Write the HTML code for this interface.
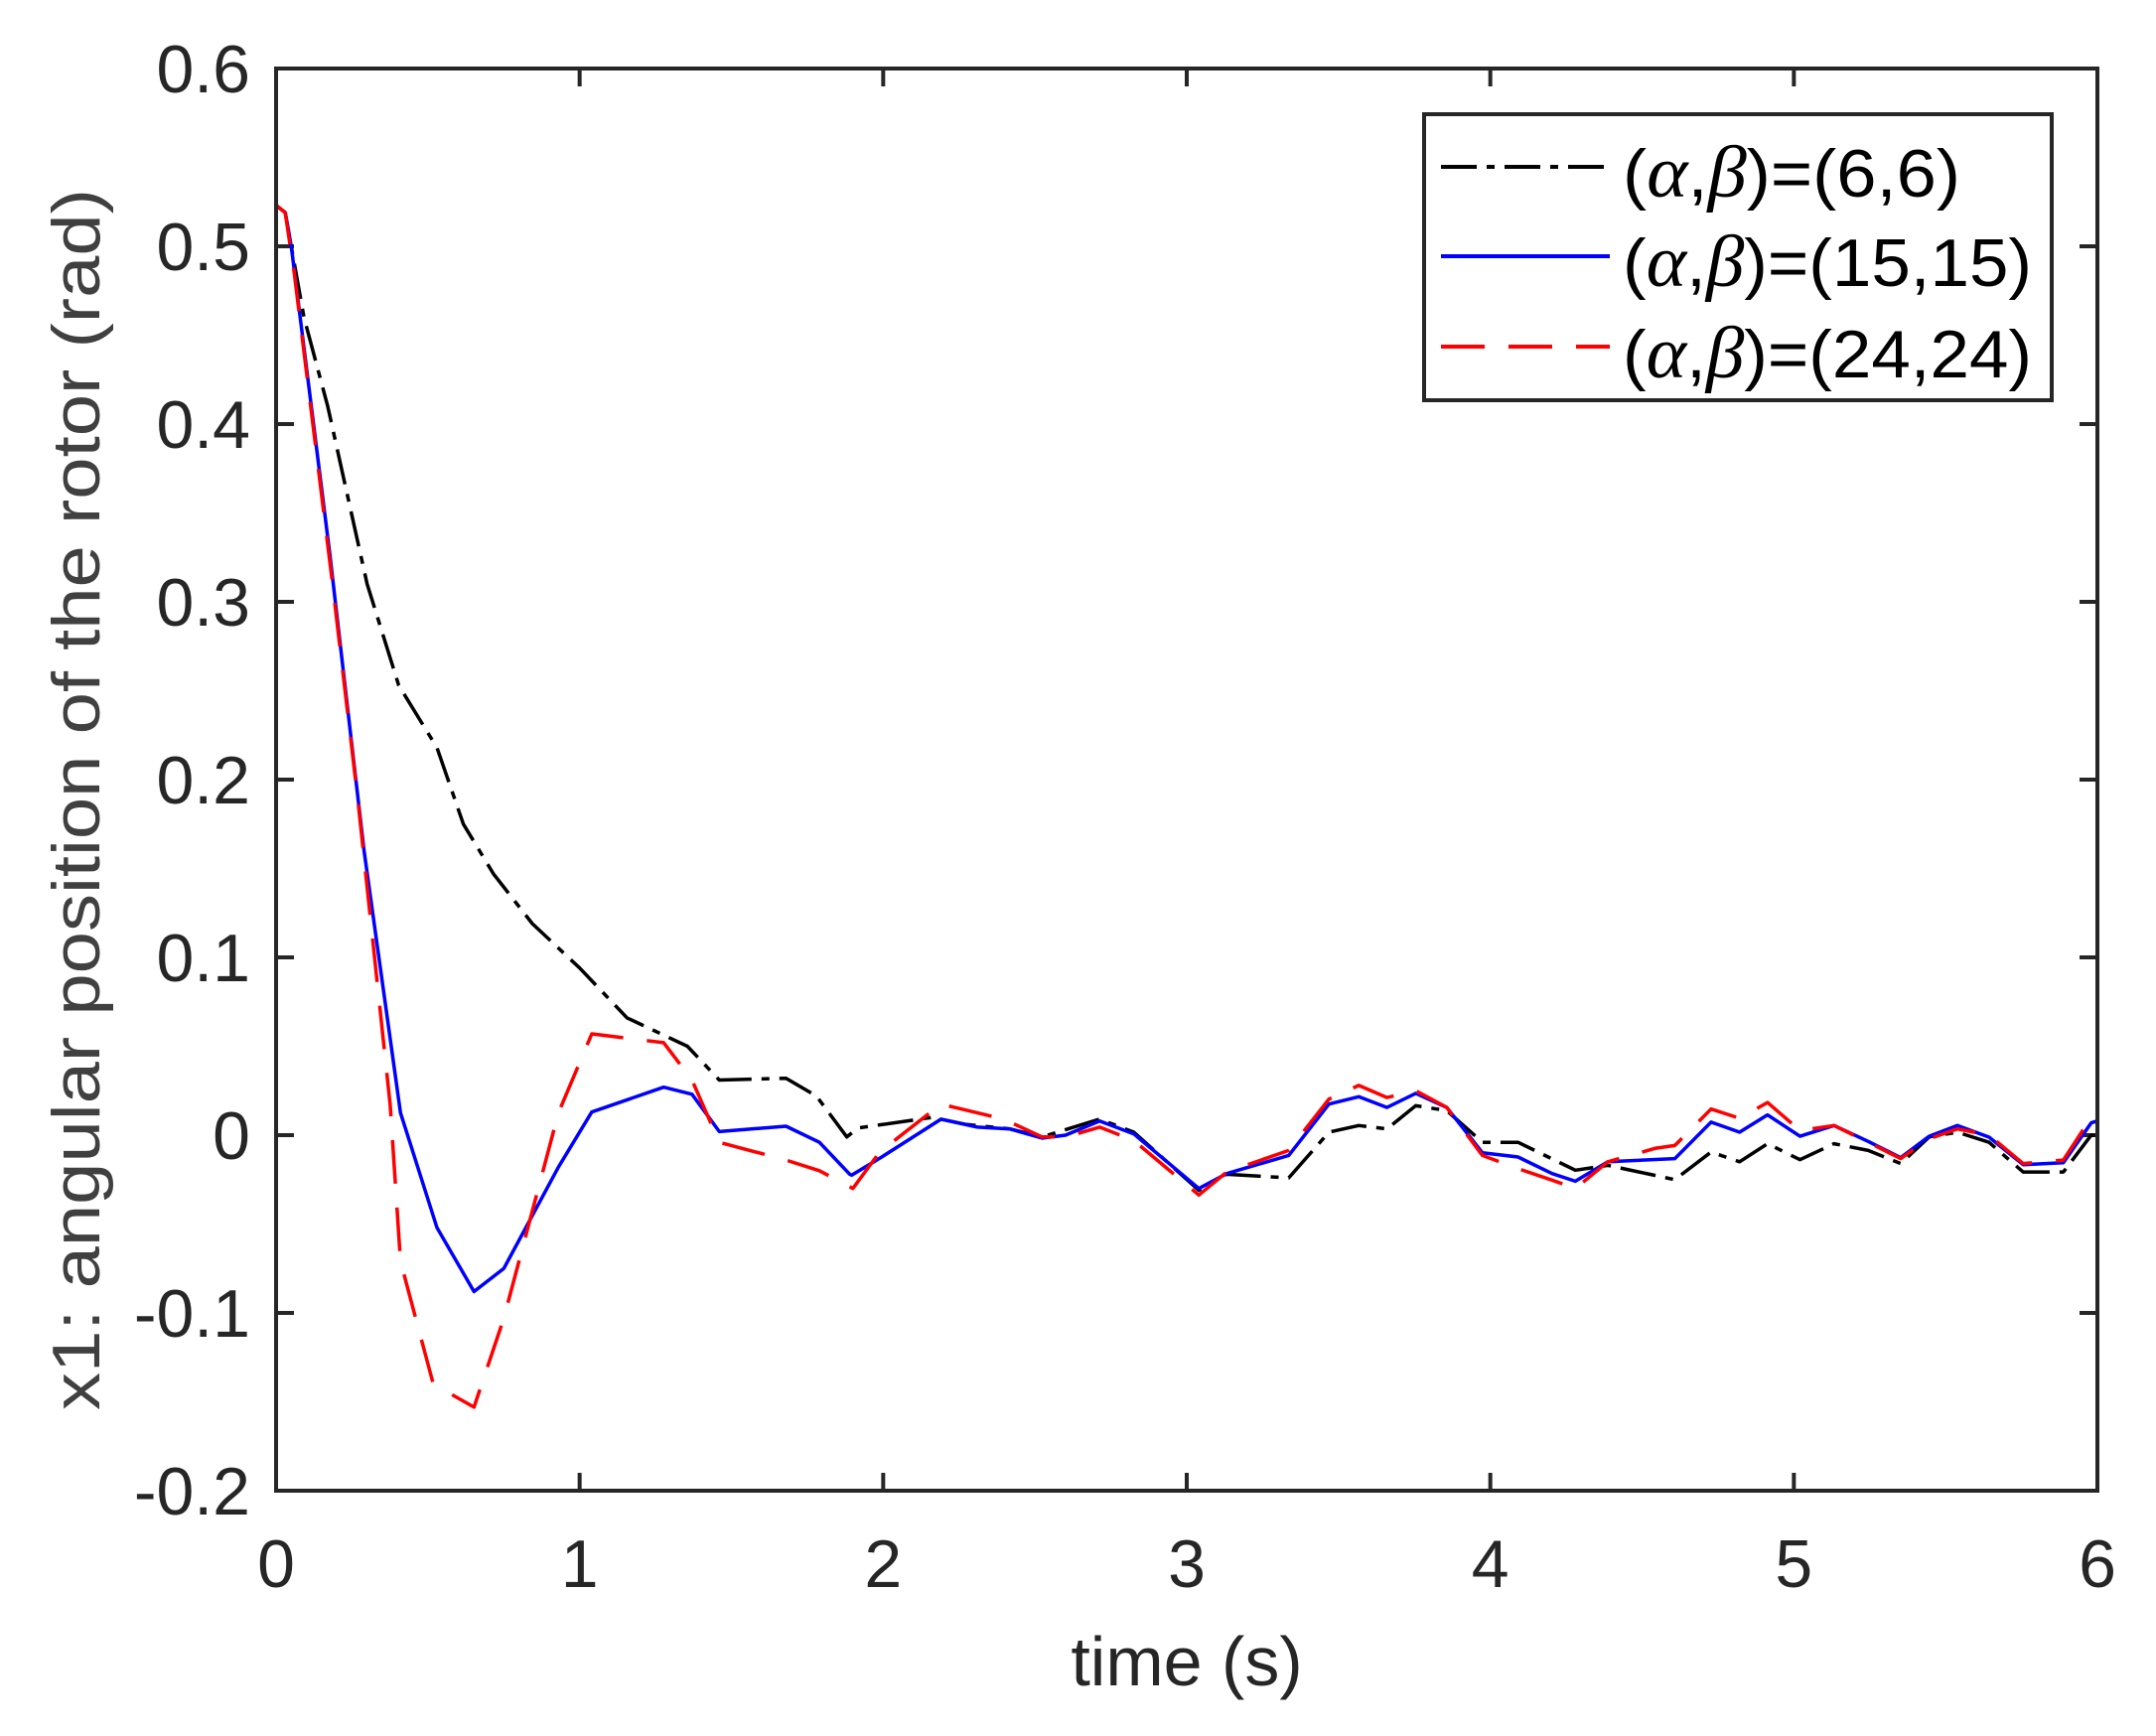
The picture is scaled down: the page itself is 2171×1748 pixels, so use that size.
<!DOCTYPE html>
<html><head><meta charset="utf-8"><style>
html,body{margin:0;padding:0;background:#fff;}
svg{display:block;font-family:"Liberation Sans",Arial,sans-serif;}
</style></head><body>
<svg id="s" width="2171" height="1748" viewBox="0 0 2171 1748" xmlns="http://www.w3.org/2000/svg">
<rect width="2171" height="1748" fill="#fff"/>
<g id="ticks" stroke="#262626" stroke-width="4"></g>
<g id="lines" fill="none" stroke-linejoin="round"></g>
<rect x="278" y="69" width="1834" height="1432" fill="none" stroke="#262626" stroke-width="4"/>
<g font-size="68" fill="#262626" text-anchor="end" id="yl"></g>
<g font-size="68" fill="#262626" text-anchor="middle" id="xl"></g>
<text x="1195" y="1697" font-size="70" fill="#262626" text-anchor="middle">time (s)</text>
<text transform="translate(100,805) rotate(-90)" font-size="68" fill="#404040" text-anchor="middle" textLength="1230" lengthAdjust="spacingAndGlyphs">x1: angular position of the rotor (rad)</text>
<rect x="1434" y="115" width="632" height="288" fill="#fff" stroke="#262626" stroke-width="4"/>
<line x1="1451" y1="168" x2="1621" y2="168" stroke="#000" stroke-width="4" stroke-dasharray="36,10,8,10"/>
<line x1="1451" y1="258" x2="1621" y2="258" stroke="#0000ff" stroke-width="4"/>
<line x1="1451" y1="349" x2="1621" y2="349" stroke="#ff0000" stroke-width="4" stroke-dasharray="44,24"/>
<g font-size="68" fill="#000">
<text x="1634" y="198" textLength="340" lengthAdjust="spacingAndGlyphs">(<tspan font-family="Liberation Serif" font-style="italic" font-size="74">α</tspan>,<tspan font-family="Liberation Serif" font-style="italic" font-size="74">β</tspan>)=(6,6)</text>
<text x="1634" y="288" textLength="412" lengthAdjust="spacingAndGlyphs">(<tspan font-family="Liberation Serif" font-style="italic" font-size="74">α</tspan>,<tspan font-family="Liberation Serif" font-style="italic" font-size="74">β</tspan>)=(15,15)</text>
<text x="1634" y="380" textLength="412" lengthAdjust="spacingAndGlyphs">(<tspan font-family="Liberation Serif" font-style="italic" font-size="74">α</tspan>,<tspan font-family="Liberation Serif" font-style="italic" font-size="74">β</tspan>)=(24,24)</text>
</g>
</svg>
<script>
var NS="http://www.w3.org/2000/svg";
function X(t){return 278+t*305.67;}
function Y(v){return 1143-v*1790;}
function F(t){return t>=1.95?1.871+(t-1.955)*1.0208:t;}
function el(p,n,a,txt){var e=document.createElementNS(NS,n);for(var k in a)e.setAttribute(k,a[k]);if(txt!==undefined)e.textContent=txt;document.getElementById(p).appendChild(e);}
for(var i=0;i<=8;i++){var v=0.6-i*0.1,y=Y(v);
 if(i>0&&i<8){el("ticks","line",{x1:278,y1:y,x2:296,y2:y});el("ticks","line",{x1:2112,y1:y,x2:2094,y2:y});}
 var s=v.toFixed(1);if(s=="-0.0"||s=="0.0")s="0";el("yl","text",{x:252,y:y+24},s);}
for(var t=0;t<=6;t++){var x=X(t);
 if(t>0&&t<6){el("ticks","line",{x1:x,y1:1501,x2:x,y2:1483});el("ticks","line",{x1:x,y1:69,x2:x,y2:87});}
 el("xl","text",{x:x,y:1598},""+t);}
var black=[[0,.523],[.03,.519],[.092,.46],[.17,.41],[.248,.35],[.30,.31],[.404,.253],[.53,.218],[.617,.175],[.716,.147],[.844,.119],[1.0,.094],[1.156,.066],[1.355,.05],[1.46,.031],[1.68,.032],[1.78,.022],[1.88,-.001],[2.0,.004],[2.24,.01],[2.35,.006],[2.49,.0035],[2.594,-.001],[2.78,.009],[2.89,.0017],[3.1,-.031],[3.19,-.022],[3.39,-.024],[3.52,.0017],[3.616,.0054],[3.707,.0035],[3.80,.0166],[3.90,.0138],[4.015,-.004],[4.13,-.004],[4.315,-.0197],[4.42,-.017],[4.636,-.025],[4.753,-.0095],[4.845,-.015],[4.935,-.0048],[5.04,-.0138],[5.15,-.0048],[5.26,-.0086],[5.365,-.016],[5.457,-.001],[5.548,.0017],[5.65,-.004],[5.76,-.0207],[5.89,-.0207],[5.98,0],[6,0]];
var blue=[[0,.523],[.03,.519],[.05,.50],[.177,.327],[.29,.16],[.41,.0125],[.53,-.052],[.652,-.088],[.75,-.075],[.93,-.018],[1.04,.013],[1.277,.027],[1.37,.023],[1.46,.002],[1.68,.005],[1.79,-.004],[1.89,-.022],[1.98,-.0225],[2.07,-.013],[2.268,.009],[2.385,.0045],[2.49,.0035],[2.594,-.0017],[2.67,0],[2.78,.008],[2.89,.0007],[3.1,-.030],[3.19,-.0216],[3.39,-.0114],[3.52,.0175],[3.616,.0216],[3.707,.0156],[3.80,.0235],[3.90,.0156],[4.015,-.0099],[4.13,-.0123],[4.24,-.0216],[4.315,-.0259],[4.42,-.015],[4.636,-.0132],[4.753,.0073],[4.845,.0017],[4.935,.0114],[5.04,-.0006],[5.15,.0054],[5.26,-.0035],[5.365,-.0127],[5.457,-.0006],[5.548,.0054],[5.65,-.0011],[5.76,-.0166],[5.89,-.0155],[5.98,.0069],[6,.008]];
var red=[[0,.523],[.03,.519],[.06,.485],[.184,.313],[.27,.188],[.376,.017],[.41,-.071],[.518,-.14],[.652,-.153],[.75,-.103],[.93,.0125],[1.04,.057],[1.277,.052],[1.37,.031],[1.46,-.004],[1.68,-.014],[1.79,-.02],[1.9,-.03],[2.07,-.0095],[2.268,.0175],[2.47,.009],[2.594,-.001],[2.67,-.001],[2.78,.0045],[2.89,-.003],[3.1,-.0337],[3.19,-.0207],[3.39,-.0086],[3.52,.0203],[3.616,.028],[3.707,.0212],[3.80,.025],[3.90,.0156],[4.015,-.0114],[4.13,-.0188],[4.24,-.0253],[4.315,-.030],[4.42,-.015],[4.575,-.0073],[4.636,-.0058],[4.753,.0147],[4.845,.0095],[4.935,.0184],[5.04,.0026],[5.15,.0054],[5.26,-.004],[5.365,-.0132],[5.457,-.002],[5.548,.0035],[5.65,0],[5.76,-.016],[5.89,-.014],[5.98,.01],[6,.0106]];
function pl(d,c,da){var p=d.map(function(q){var t=F(q[0]);if(t>6)t=6;return X(t).toFixed(1)+","+Y(q[1]).toFixed(1);}).join(" ");var a={points:p,stroke:c,"stroke-width":3.5};if(da)a["stroke-dasharray"]=da;el("lines","polyline",a);}
pl(black,"#000","36,10,8,10");
pl(blue,"#0000ff");
pl(red,"#ff0000","44,24");
</script>
</body></html>
